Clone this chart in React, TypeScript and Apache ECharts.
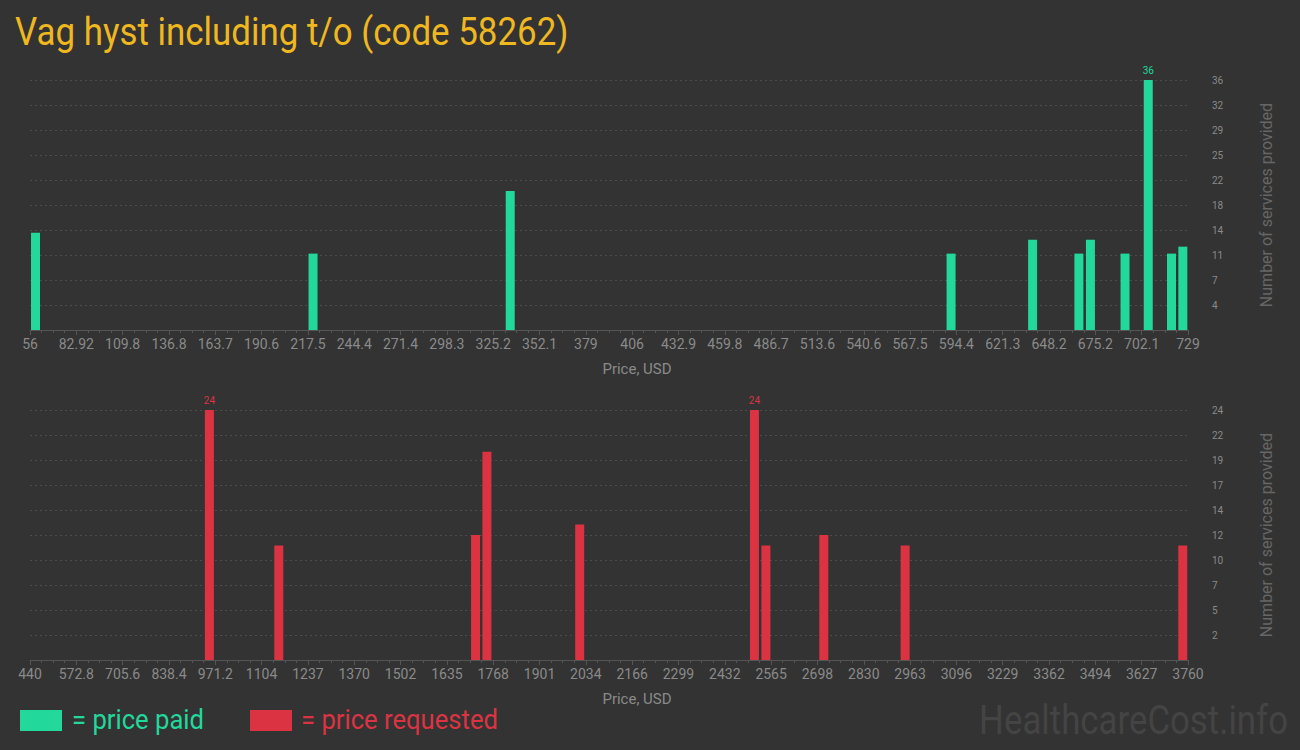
import React, { useEffect, useRef } from "react";
import * as echarts from "echarts";

const TITLE = "Vag hyst including t/o (code 58262)";

// Top chart: price paid
const paidMin = 56;
const paidMax = 729;
const paidPrices = [59.2, 220.5, 335.1, 591.3, 638.7, 665.6, 672.3, 692.4, 705.9, 719.4, 726];
const paidCounts = [14, 11, 20, 11, 13, 11, 13, 11, 36, 11, 12];
const paidYMax = 36;

// Bottom chart: price requested
const reqMin = 440;
const reqMax = 3760;
const reqPrices = [954.3, 1153.3, 1717.5, 1750, 2016, 2517, 2549.8, 2715.8, 2949, 3745];
const reqCounts = [24, 11, 12, 20, 13, 24, 11, 12, 11, 11];
const reqYMax = 24;

const TICK_COUNT = 25;

const GREEN = "#22d89b";
const RED = "#dc3343";
const BG = "#333333";
const FONT = "Roboto, sans-serif";

function fmt(v: number): string {
  return String(Number(v.toPrecision(4)));
}

export default function App() {
  const ref = useRef<HTMLDivElement>(null);

  useEffect(() => {
    document.body.style.margin = "0";
    const chart = echarts.init(ref.current!, null, { renderer: "svg" });

    const makeX = (gridIndex: number, min: number, max: number) => {
      const step = (max - min) / TICK_COUNT;
      return {
        type: "value",
        gridIndex,
        min: 0,
        max: TICK_COUNT,
        interval: 1,
        name: "Price, USD",
        nameLocation: "middle",
        nameGap: 31,
        nameTextStyle: { color: "#8a8a8a", fontSize: 15, fontFamily: FONT, padding: [0, 0, 0, 56] },
        axisLine: { show: true, lineStyle: { color: "#555555", width: 1 } },
        axisTick: { show: true, length: 5, lineStyle: { color: "#555555" } },
        minorTick: { show: true, splitNumber: 4, length: 3, lineStyle: { color: "#555555" } },
        splitLine: { show: false },
        axisLabel: {
          color: "#8a8a8a",
          fontSize: 14,
          fontFamily: FONT,
          margin: 7,
          formatter: (v: number) => fmt(min + v * step),
        },
      };
    };

    const makeY = (gridIndex: number, max: number) => ({
      type: "value",
      gridIndex,
      position: "right",
      min: 0,
      max,
      interval: max / 10,
      name: "Number of services provided",
      nameLocation: "middle",
      nameRotate: 90,
      nameGap: 70,
      nameTextStyle: { color: "#666666", fontSize: 16, fontFamily: FONT },
      axisLine: { show: false },
      axisTick: { show: false },
      splitLine: { show: true, lineStyle: { color: "#4c4c4c", type: [2, 3], width: 1 } },
      axisLabel: {
        color: "#8a8a8a",
        fontSize: 10,
        fontFamily: FONT,
        margin: 24,
        formatter: (v: number) => (v === 0 ? "" : String(Math.round(v))),
      },
    });

    const toIdx = (p: number, min: number, max: number) => ((p - min) / (max - min)) * TICK_COUNT;

    const makeData = (prices: number[], counts: number[], min: number, max: number, color: string) => {
      const top = Math.max(...counts);
      return prices.map((p, i) => ({
        value: [toIdx(p, min, max), counts[i]],
        label: {
          show: counts[i] === top,
          position: "top",
          color,
          fontSize: 10,
          fontFamily: FONT,
          distance: 5,
        },
      }));
    };

    chart.setOption({
      animation: false,
      backgroundColor: BG,
      grid: [
        { left: 30, right: 112, top: 80, height: 250 },
        { left: 30, right: 112, top: 410, height: 250 },
      ],
      xAxis: [makeX(0, paidMin, paidMax), makeX(1, reqMin, reqMax)],
      yAxis: [makeY(0, paidYMax), makeY(1, reqYMax)],
      series: [
        {
          type: "bar",
          xAxisIndex: 0,
          yAxisIndex: 0,
          barWidth: 9,
          itemStyle: { color: GREEN },
          data: makeData(paidPrices, paidCounts, paidMin, paidMax, GREEN),
        },
        {
          type: "bar",
          xAxisIndex: 1,
          yAxisIndex: 1,
          barWidth: 9,
          itemStyle: { color: RED },
          data: makeData(reqPrices, reqCounts, reqMin, reqMax, RED),
        },
      ],
      graphic: [
        {
          type: "text",
          x: 15,
          y: 32,
          scaleX: 0.895,
          style: {
            text: TITLE,
            fill: "#efb720",
            fontSize: 39,
            fontFamily: FONT,
            textVerticalAlign: "middle",
          },
        },
        { type: "rect", x: 20, y: 710, shape: { width: 42, height: 21 }, style: { fill: GREEN } },
        {
          type: "text",
          x: 72,
          y: 720,
          scaleX: 0.915,
          style: { text: "= price paid", fill: GREEN, fontSize: 28, fontFamily: FONT, textVerticalAlign: "middle" },
        },
        { type: "rect", x: 250, y: 710, shape: { width: 42, height: 21 }, style: { fill: RED } },
        {
          type: "text",
          x: 301,
          y: 720,
          scaleX: 0.915,
          style: { text: "= price requested", fill: RED, fontSize: 28, fontFamily: FONT, textVerticalAlign: "middle" },
        },
        {
          type: "text",
          x: 1288,
          y: 720,
          scaleX: 0.87,
          style: {
            text: "HealthcareCost.info",
            fill: "#444444",
            fontSize: 40,
            fontFamily: FONT,
            textAlign: "right",
            textVerticalAlign: "middle",
          },
        },
      ],
    });

    return () => chart.dispose();
  }, []);

  return (
    <div
      ref={ref}
      style={{ position: "fixed", left: 0, top: 0, width: 1300, height: 750 }}
    />
  );
}
